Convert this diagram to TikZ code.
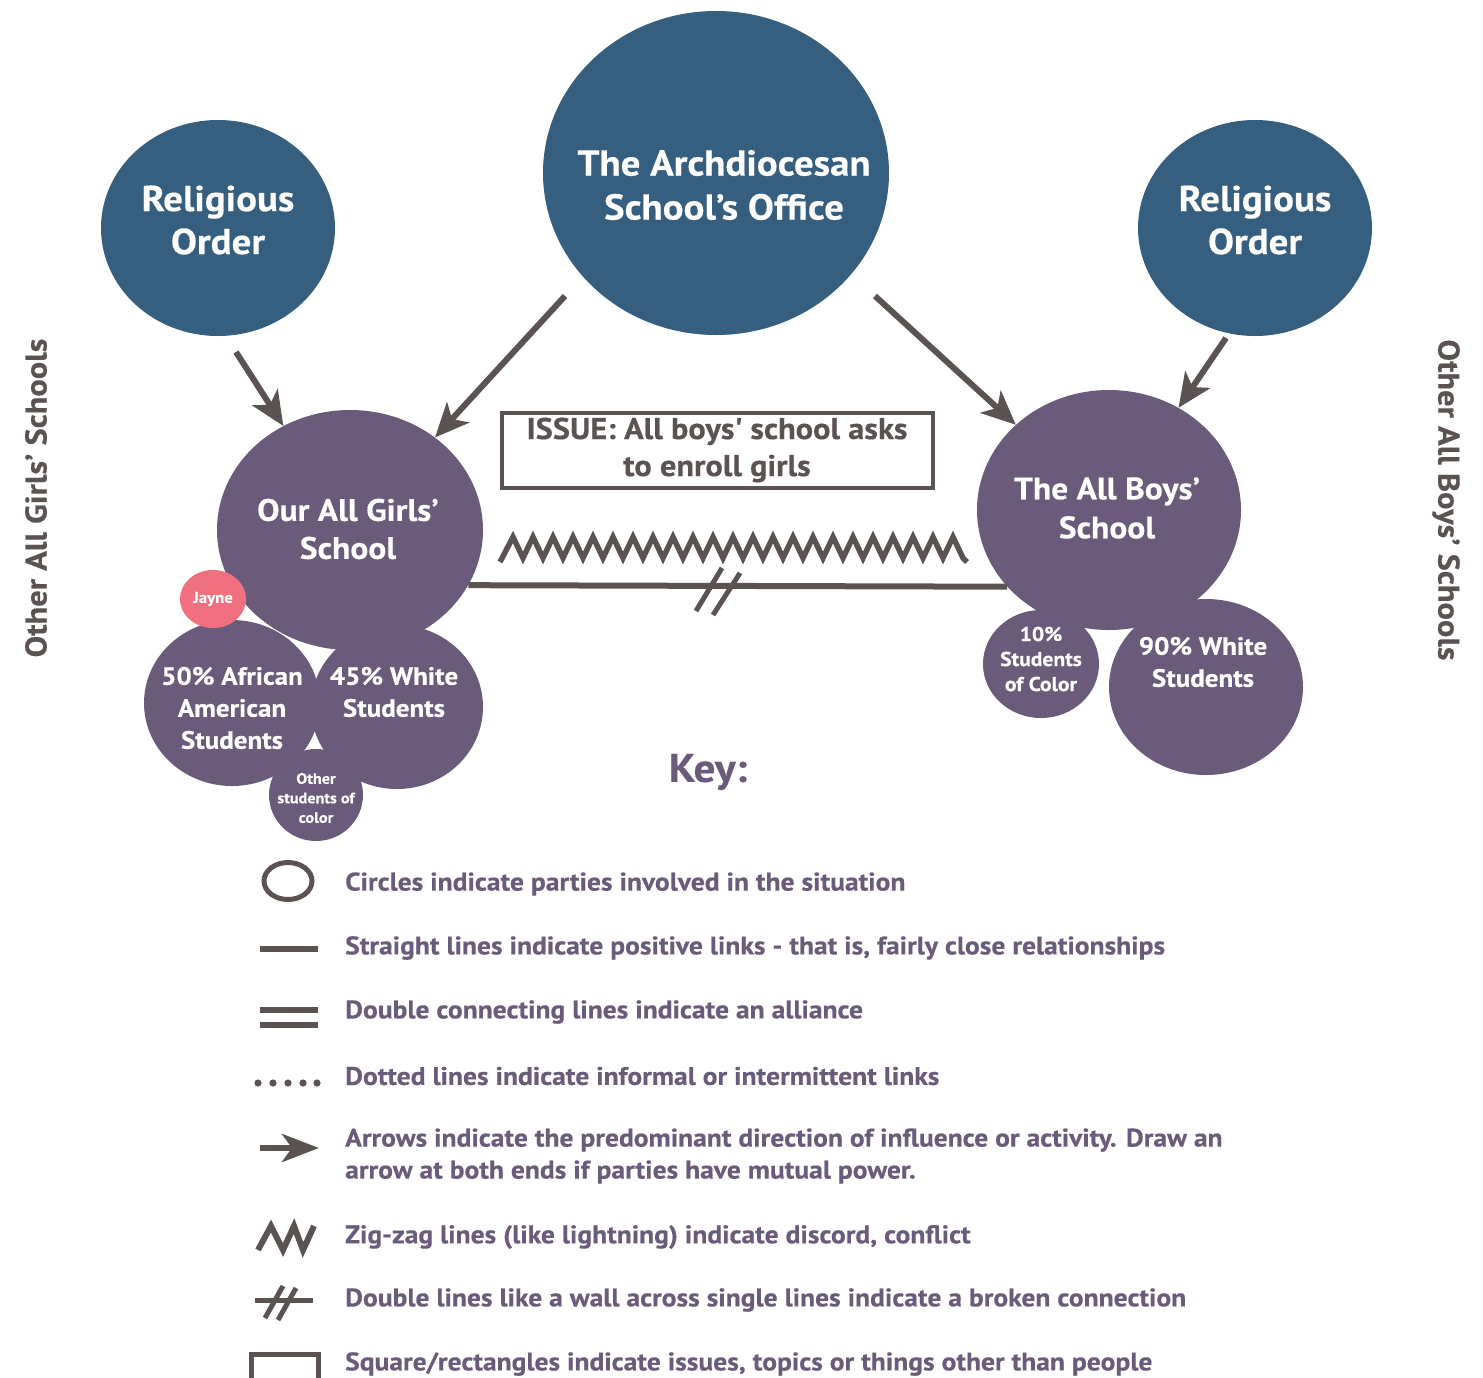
\documentclass[tikz,border=0pt]{standalone}
\usepackage{fontspec}
\setmainfont{PT Sans}[BoldFont={PT Sans Bold},BoldFeatures={FakeStretch=1.08,FakeBold=0.4}]
\usetikzlibrary{shapes.geometric,arrows.meta,calc}
\definecolor{ablue}{HTML}{365E7E}
\definecolor{apurple}{HTML}{6A5B7B}
\definecolor{agrey}{HTML}{5B5252}
\definecolor{apink}{HTML}{F07080}
\newcommand{\fsz}[2]{\fontsize{#1}{#2}\selectfont\bfseries}
\begin{document}
\begin{tikzpicture}[x=1pt,y=-1pt,
  org/.style={ellipse,fill=ablue,inner sep=0pt},
  grp/.style={ellipse,fill=apurple,inner sep=0pt},
  lbl/.style={text=white,align=center,inner sep=0pt},
  link/.style={draw=agrey,line width=6pt},
  infl/.style={draw=agrey,line width=6pt,-{Stealth[length=34pt,width=30pt,inset=9pt]}},
  rough/.style={draw=agrey,line width=5.5pt,line join=miter,miter limit=10},
  keytext/.style={text=apurple,anchor=west,align=left,inner sep=0pt,font=\fsz{25.5}{32}},
  side/.style={text=agrey,inner sep=0pt,font=\fsz{30}{36}},
]
\useasboundingbox (0,0) rectangle (1483,1377);

% parties
\node[org,minimum width=346pt,minimum height=324pt] (arch) at (716,173) {};
\node[org,minimum width=234pt,minimum height=216pt] (relG) at (218,228) {};
\node[org,minimum width=234pt,minimum height=216pt] (relB) at (1255,228) {};

\node[grp,minimum width=176pt,minimum height=166pt] (afr) at (232,703) {};
\node[grp,minimum width=172pt,minimum height=164pt] (whG) at (397,707) {};
\node[grp,minimum width=94pt,minimum height=92pt] (oth) at (316,795) {};
\node[grp,minimum width=266pt,minimum height=240pt] (girls) at (350,530) {};
\node[fill=apink,ellipse,inner sep=0pt,minimum width=66pt,minimum height=58pt] (jayne) at (213,599) {};

\node[grp,minimum width=116pt,minimum height=108pt] (socB) at (1041,664) {};
\node[grp,minimum width=194pt,minimum height=176pt] (whB) at (1206,687) {};
\node[grp,minimum width=264pt,minimum height=240pt] (boys) at (1109,510) {};

% labels
\node[lbl,font=\fsz{36}{44}] (archT) at (724,185) {The Archdiocesan\\School’s Office};
\node[lbl,font=\fsz{36}{43}] (relGT) at (218,220) {Religious\\Order};
\node[lbl,font=\fsz{36}{43}] (relBT) at (1255,220) {Religious\\Order};
\node[lbl,font=\fsz{31}{38}] (girlsT) at (348,529) {Our All Girls’\\School};
\node[lbl,font=\fsz{31}{39}] (boysT) at (1107,508) {The All Boys’\\School};
\node[lbl,font=\fsz{25}{32}] (afrT) at (232,708) {50\% African\\American\\Students};
\node[lbl,font=\fsz{25}{32}] (whGT) at (394,692) {45\% White\\Students};
\node[lbl,font=\fsz{15}{19.5}] (othT) at (316,798) {Other\\students of\\color};
\node[lbl,font=\fsz{15.5}{18}] (jayneT) at (213,599) {Jayne};
\node[lbl,font=\fsz{20}{25}] (socBT) at (1041,659) {10\%\\Students\\of Color};
\node[lbl,font=\fsz{25}{32}] (whBT) at (1203,662) {90\% White\\Students};

% side notes
\node[side,rotate=90] (otherG) at (36,498) {Other All Girls’ Schools};
\node[side,rotate=-90] (otherB) at (1446,500) {Other All Boys’ Schools};

% influence arrows
\coordinate (a1) at (236,352);
\coordinate (a2) at (565,296);
\coordinate (a3) at (875,296);
\coordinate (a4) at (1226,338);
\draw[infl] (a1) -- (girls);
\draw[infl] (a2) -- (girls);
\draw[infl] (a3) -- (boys);
\draw[infl] (a4) -- (boys);

% issue
\node[draw=agrey,line width=4pt,minimum width=431pt,minimum height=75pt,inner sep=0pt] (issue) at (717.5,450.5) {};
\node[text=agrey,align=center,inner sep=0pt,font=\fsz{30}{37}] (issueT) at (717,450) {ISSUE: All boys\textquotesingle\ school asks\\to enroll girls};

% conflict between the two schools
\coordinate (zzL) at (500,562);
\coordinate (zzR) at (967,562);
\draw[rough] (zzL) \foreach \i in {0,...,22} { -- ({513+20*\i},537) -- ({523+20*\i},558) } -- (zzR);

% broken positive link
\draw[link] (girls.-25.5) -- (boys.-143.3);
\coordinate (brk) at (718,591);
\draw[agrey,line width=5pt] ($(brk)+(-22,20)$) -- ($(brk)+(4,-23)$);
\draw[agrey,line width=5pt] ($(brk)+(-5,24)$) -- ($(brk)+(22,-18)$);

% key
\node[text=apurple,inner sep=0pt,font=\fsz{40}{48}] (keyT) at (708,772) {Key:};

\draw[agrey,line width=5pt] (288,881) ellipse [x radius=24pt, y radius=18.5pt];
\node[keytext] (k1) at (345,884) {Circles indicate parties involved in the situation};

\draw[agrey,line width=6pt] (260,949) -- (318,949);
\node[keytext] (k2) at (345,948) {Straight lines indicate positive links - that is, fairly close relationships};

\draw[agrey,line width=6pt] (260,1010) -- (318,1010);
\draw[agrey,line width=6pt] (260,1025) -- (318,1025);
\node[keytext] (k3) at (345,1012) {Double connecting lines indicate an alliance};

\foreach \x in {258,273,288,303,317} \fill[agrey] (\x,1083) circle [radius=3.6pt];
\node[keytext] (k4) at (345,1076) {Dotted lines indicate informal or intermittent links};

\draw[agrey,line width=6pt,-{Stealth[length=37pt,width=28pt,inset=10pt]}] (260,1148) -- (319,1148);
\node[keytext] (k5) at (345,1156) {Arrows indicate the predominant direction of influence or activity. Draw an\\arrow at both ends if parties have mutual power.};

\draw[agrey,line width=6pt,line join=miter] (258,1250) -- (271,1226) -- (283,1250) -- (294,1226) -- (303,1250) -- (314,1226);
\node[keytext] (k6) at (345,1237) {Zig-zag lines (like lightning) indicate discord, conflict};

\draw[agrey,line width=5pt] (255,1300) -- (313,1300);
\draw[agrey,line width=5pt] (265,1318) -- (283,1286);
\draw[agrey,line width=5pt] (278,1320) -- (296,1288);
\node[keytext] (k7) at (345,1300) {Double lines like a wall across single lines indicate a broken connection};

\draw[agrey,line width=5pt] (251,1354) rectangle (318,1380);
\node[keytext] (k8) at (345,1364) {Square/rectangles indicate issues, topics or things other than people};
\end{tikzpicture}
\end{document}
